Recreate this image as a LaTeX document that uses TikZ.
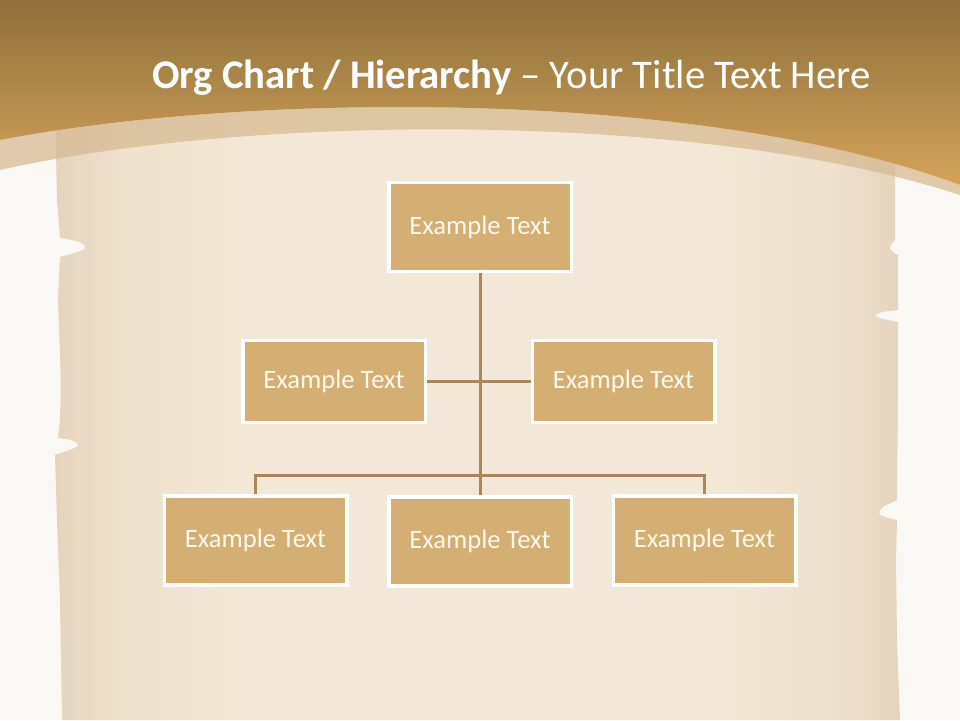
\documentclass[tikz,border=0pt]{standalone}
\usepackage{fontspec}
\setmainfont{Carlito}
\definecolor{bgwhite}{HTML}{FAF8F4}
\definecolor{parchE}{HTML}{E5D4BD}
\definecolor{parchM}{HTML}{EEE1CD}
\definecolor{parchC}{HTML}{F3E8D7}
\definecolor{bandtop}{HTML}{8E703B}
\definecolor{bandbot}{HTML}{D4A35A}
\definecolor{bandlight}{HTML}{D6BB93}
\definecolor{boxfill}{HTML}{D4AE72}
\definecolor{boxtext}{HTML}{FFF8EC}
\definecolor{linkcol}{HTML}{A8875A}
\pgfdeclarehorizontalshading{parchshade}{100bp}{color(0bp)=(parchE); color(25bp)=(parchE); color(29bp)=(parchM); color(37bp)=(parchC); color(63bp)=(parchC); color(71bp)=(parchM); color(75bp)=(parchE); color(100bp)=(parchE)}
\tikzset{
  orgbox/.style={rectangle, fill=boxfill, draw=white, line width=3.5pt,
    minimum width=182.5pt, text=boxtext, font=\fontsize{26.6pt}{31pt}\selectfont, inner sep=0pt},
  tallbox/.style={orgbox, minimum height=89pt},
  midbox/.style={orgbox, minimum height=82pt},
  link/.style={draw=linkcol, line width=3pt}
}
\begin{document}
\begin{tikzpicture}[x=1pt,y=-1pt]
\useasboundingbox (0,0) rectangle (960,720);
\fill[bgwhite] (0,0) rectangle (960,720);
% parchment
\shade[shading=parchshade]
  (55,100) -- (57,200) .. controls (59,225) .. (60,238)
  .. controls (75,240) and (86,243) .. (85,248)
  .. controls (82,252) and (70,254) .. (60,257)
  -- (58,300) .. controls (60,360) and (63,400) .. (58,438)
  .. controls (68,439) and (78,441) .. (78,445)
  .. controls (76,449) and (65,451) .. (55,455)
  -- (57,520) -- (60,600) -- (62,720)
  -- (900,720) -- (897,640) -- (896,560) -- (897,520)
  .. controls (888,518) and (878,516) .. (879,512)
  .. controls (881,506) and (890,504) .. (897,500)
  -- (898,400) -- (898,322)
  .. controls (888,320) and (875,318) .. (875,315)
  .. controls (878,312) and (888,311) .. (898,310)
  -- (898,255) .. controls (892,252) .. (890,248)
  .. controls (891,244) .. (895,240) -- (895,100) -- cycle;
% light arc band
\fill[bandlight, opacity=0.75]
  (0,140) .. controls (250,92) and (700,88) .. (960,185)
  -- (960,195) .. controls (700,110) and (250,114) .. (0,170) -- cycle;
% top band
\shade[top color=bandtop, bottom color=bandbot]
  (0,0) -- (960,0) -- (960,185) .. controls (700,88) and (250,92) .. (0,140) -- cycle;
% title
\node[anchor=base west, inner sep=0pt, text=white, font=\fontsize{40.7pt}{48pt}\selectfont]
  (title) at (152,88) {\textbf{Org Chart / Hierarchy} – Your Title Text Here};
% boxes
\node[tallbox] (top) at (480,227) {Example Text};
\node[midbox] (ml) at (334,381.5) {Example Text};
\node[midbox] (mr) at (623.5,381.5) {Example Text};
\node[tallbox] (bl) at (255.5,540.5) {Example Text};
\node[tallbox] (bm) at (480,541.5) {Example Text};
\node[tallbox] (br) at (704.5,540.5) {Example Text};
\coordinate (bar) at (480,475);
% connectors
\draw[link] (top.south) -- (bm.north);
\draw[link] (ml.east) -- (mr.west);
\draw[link] (bl.north) -- (bl.north |- bar) -- (br.north |- bar) -- (br.north);
\end{tikzpicture}
\end{document}
